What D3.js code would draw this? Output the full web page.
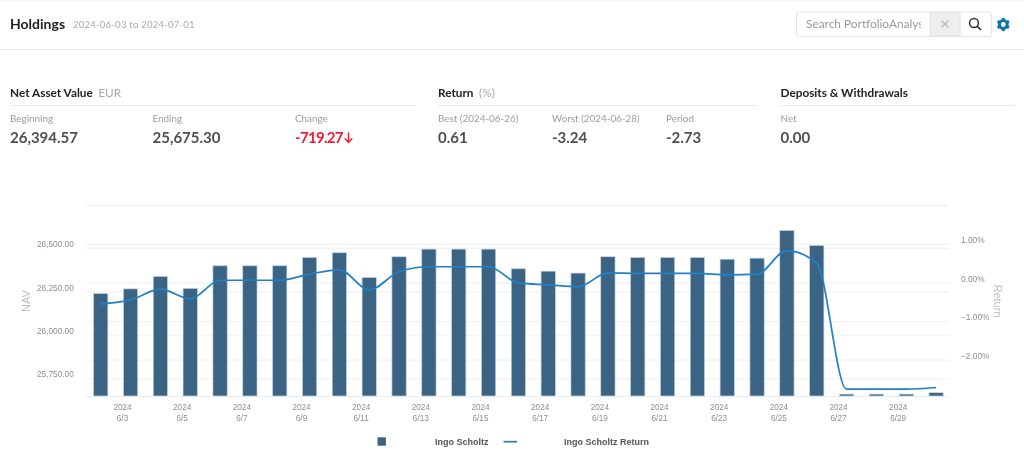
<!DOCTYPE html>
<html><head><meta charset="utf-8">
<script src="https://cdn.jsdelivr.net/npm/d3@7"></script>
<style>
html,body{margin:0;padding:0;background:#fff;overflow:hidden}
svg{display:block;font-family:Lato,"Open Sans",sans-serif;filter:blur(0.35px)}
</style></head><body><svg id="c" width="1024" height="463"></svg>
<script>
const days = ["6/3","6/4","6/5","6/6","6/7","6/8","6/9","6/10","6/11","6/12","6/13","6/14","6/15","6/16","6/17","6/18","6/19","6/20","6/21","6/22","6/23","6/24","6/25","6/26","6/27","6/28","6/29","6/30","7/1"];
const navValues = [26241,26267,26339,26270,26400,26400,26400,26448,26475,26333,26452,26496,26496,26496,26383,26369,26358,26452,26448,26448,26448,26438,26444,26604,26517,25661,25661,25661,25669];
const returnValues = [-0.55,-0.44,-0.16,-0.41,0.07,0.07,0.07,0.23,0.34,-0.18,0.29,0.42,0.42,0.42,0.0,-0.05,-0.1,0.26,0.25,0.25,0.25,0.21,0.23,0.84,0.51,-2.75,-2.75,-2.75,-2.71];
const navTicks = [25750,26000,26250,26500];
const navGrid = [25750,26000,26250,26500,26750];
const returnTicks = [-2,-1,0,1];
const returnGrid = [-2,-1,0,1,2];
const xTicks = ["6/3","6/5","6/7","6/9","6/11","6/13","6/15","6/17","6/19","6/21","6/23","6/25","6/27","6/29"];
const panels = [
 {title:"Net Asset Value",unit:"EUR",x:10,x2:416,items:[["Beginning","26,394.57",10],["Ending","25,675.30",152.5],["Change","-719.27",295,"#ee1c33"]]},
 {title:"Return",unit:"(%)",x:438,x2:758,items:[["Best (2024-06-26)","0.61",438],["Worst (2024-06-28)","-3.24",552],["Period","-2.73",666]]},
 {title:"Deposits & Withdrawals",unit:"",x:780.5,x2:1015,items:[["Net","0.00",780.5]]}
];
const chartFont = '"Liberation Sans",Arial,sans-serif';

const svg = d3.select("#c");
const T = (x,y,s,size,fill,weight,anchor)=>svg.append("text").attr("x",x).attr("y",y).text(s)
  .attr("font-size",size).attr("fill",fill).attr("font-weight",weight||400).attr("text-anchor",anchor||"start");

// header
svg.append("line").attr("x1",0).attr("x2",1024).attr("y1",0.5).attr("y2",0.5).attr("stroke","#f6f6f6");
svg.append("line").attr("x1",0).attr("x2",1024).attr("y1",49.5).attr("y2",49.5).attr("stroke","#e9e9e9");
T(10,28.5,"Holdings",14,"#222",700);
T(73,27.8,"2024-06-03 to 2024-07-01",9.6,"#aaa").attr("letter-spacing","0.2");

// search box
svg.append("rect").attr("x",796.5).attr("y",12).attr("width",195).attr("height",24.5).attr("rx",3).attr("fill","#fff").attr("stroke","#e4e4e4");
svg.append("rect").attr("x",930).attr("y",12.5).attr("width",30).attr("height",23.5).attr("fill","#eee").attr("stroke","#e2e2e2");
svg.append("clipPath").attr("id","sc").append("rect").attr("x",800).attr("y",10).attr("width",121).attr("height",30);
T(806,28,"Search PortfolioAnalyst",11.9,"#9a9a9a").attr("clip-path","url(#sc)");
svg.append("g").attr("stroke","#b5b5b5").attr("stroke-width",1.1).call(g=>{
  g.append("line").attr("x1",941.5).attr("y1",20.5).attr("x2",948.5).attr("y2",27.5);
  g.append("line").attr("x1",948.5).attr("y1",20.5).attr("x2",941.5).attr("y2",27.5);
});
svg.append("circle").attr("cx",974).attr("cy",23).attr("r",4.4).attr("fill","none").attr("stroke","#333").attr("stroke-width",1.5);
svg.append("line").attr("x1",977.3).attr("y1",26.3).attr("x2",981).attr("y2",30).attr("stroke","#333").attr("stroke-width",1.7);
const gear = svg.append("g").attr("transform","translate(1003.3,24.5)");
gear.append("circle").attr("r",3.9).attr("fill","none").attr("stroke","#0f75a8").attr("stroke-width",3);
gear.selectAll("rect").data([0,60,120,180,240,300]).join("rect")
  .attr("x",-1.5).attr("y",-6.6).attr("width",3).attr("height",2.4).attr("fill","#0f75a8")
  .attr("transform",d=>`rotate(${d})`);

// summary panels
panels.forEach(p=>{
  const t = T(p.x,96.5,p.title,11.8,"#222",700);
  if(p.unit){
    t.append("tspan").attr("dx",5.5).attr("fill","#aaa").attr("font-weight",400).text(p.unit);
  }
  svg.append("line").attr("x1",p.x).attr("x2",p.x2).attr("y1",105.5).attr("y2",105.5).attr("stroke","#e9e9e9");
  p.items.forEach(d=>{
    T(d[2],122,d[0],9.9,"#9c9c9c");
    const v = T(d[2],142.5,d[1],15,d[3]||"#4f4f4f",700);
    if(d[3]) v.attr("letter-spacing","-0.7");
  });
});
// down arrow after the change value
svg.append("path").attr("d","M348.5 132.5V142.5M344.8 138.6L348.5 142.5L352.2 138.6")
  .attr("fill","none").attr("stroke","#ee1c33").attr("stroke-width",1.5);

// chart scales
const left=85.8,right=951,gridRight=949,bottom=396;
const x = d3.scaleBand().domain(days).range([left,right]).paddingInner(0.52).paddingOuter(0.26);
const yNav = d3.scaleLinear().domain([25650,26750]).range([bottom,205]);
const yRet = d3.scaleLinear().domain([-2.93,2]).range([bottom,205.8]);

// grids
const grid = svg.append("g").attr("stroke","#f1f2f3").attr("stroke-width",1.2);
navGrid.forEach(v=>grid.append("line").attr("x1",left).attr("x2",gridRight).attr("y1",yNav(v)).attr("y2",yNav(v)));
returnGrid.forEach(v=>grid.append("line").attr("x1",left).attr("x2",gridRight).attr("y1",yRet(v)).attr("y2",yRet(v)));

// axes
const gl = svg.append("g").attr("transform",`translate(${left-12},0)`)
  .call(d3.axisLeft(yNav).tickValues(navTicks).tickSize(0).tickPadding(0).tickFormat(d3.format(",.2f")));
const gr = svg.append("g").attr("transform",`translate(961,0)`)
  .call(d3.axisRight(yRet).tickValues(returnTicks).tickSize(0).tickPadding(0).tickFormat(d=>d3.format(".2f")(d)+"%"));
[gl,gr].forEach(g=>{
  g.select(".domain").remove();
  g.selectAll("text").attr("fill","#8e8e8e").attr("font-size",8.3).attr("font-family",chartFont).attr("dy","-0.2em");
});

// x axis
const tickShift = x.step()*0.73;
const gx = svg.append("g").attr("transform",`translate(${tickShift},${bottom})`)
  .call(d3.axisBottom(x).tickValues(xTicks).tickSize(5).tickPadding(0));
gx.select(".domain").remove();
gx.selectAll("line").attr("stroke","#e6eefa");
gx.selectAll("text").each(function(d){
  const s=d3.select(this).text(null).attr("fill","#8e8e8e").attr("font-size",8.2).attr("font-family",chartFont).attr("y",0).attr("dy",null);
  s.append("tspan").attr("x",0).attr("y",14.2).text("2024");
  s.append("tspan").attr("x",0).attr("y",24.6).text(d);
});
svg.append("line").attr("x1",left).attr("x2",gridRight).attr("y1",bottom+0.5).attr("y2",bottom+0.5).attr("stroke","#e6eefa");

// bars
svg.append("g").selectAll("rect").data(days).join("rect")
  .attr("x",d=>x(d)).attr("width",x.bandwidth())
  .attr("y",(d,i)=>yNav(navValues[i])).attr("height",(d,i)=>bottom-yNav(navValues[i]))
  .attr("fill","#3b6484").attr("stroke","#c9d6e4").attr("stroke-width",0.7);

// return line
const line = d3.line().x((d,i)=>x(days[i])+x.bandwidth()/2).y(d=>yRet(d)).curve(d3.curveMonotoneX);
svg.append("path").datum(returnValues).attr("d",line).attr("fill","none").attr("stroke","#2080c6").attr("stroke-width",1.7);

// axis titles
T(0,0,"NAV",11,"#bdbdbd",400,"middle").attr("font-family",chartFont).attr("transform","translate(30,301) rotate(-90)");
T(0,0,"Return",11,"#bdbdbd",400,"middle").attr("font-family",chartFont).attr("transform","translate(994,301) rotate(90)");

// legend
svg.append("rect").attr("x",377.5).attr("y",437.3).attr("width",8.4).attr("height",8.4).attr("fill","#3b6484");
T(435,444.8,"Ingo Scholtz",9,"#555",700).attr("font-family",chartFont);
svg.append("line").attr("x1",503.5).attr("x2",517).attr("y1",441.7).attr("y2",441.7).attr("stroke","#2080c6").attr("stroke-width",1.7);
T(564,444.8,"Ingo Scholtz Return",9,"#555",700).attr("font-family",chartFont);
</script></body></html>
